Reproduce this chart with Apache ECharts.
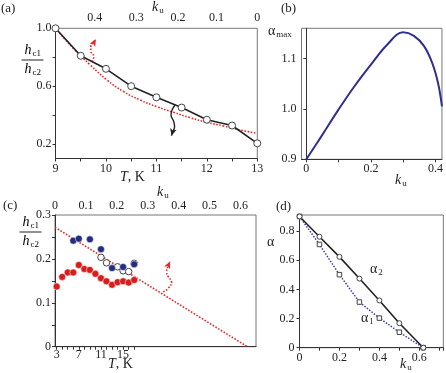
<!DOCTYPE html>
<html>
<head>
<meta charset="utf-8">
<script src="https://cdn.jsdelivr.net/npm/echarts@6/dist/echarts.min.js"></script>
<style>
html, body { margin: 0; padding: 0; background: #fff; }
#chart { width: 446px; height: 373px; }
</style>
</head>
<body>
<div id="chart"></div>
<script>
// panel (a): h_c1/h_c2 vs T
const tempA = [9, 9.5, 10, 10.5, 11, 11.5, 12, 12.5, 13];
const ratioA = [1.0, 0.81, 0.72, 0.60, 0.523, 0.452, 0.368, 0.328, 0.205];
const fitTempA = [9, 9.35, 9.69, 10.02, 10.35, 10.68, 11.01, 11.34, 11.67, 12.0, 12.33, 12.66, 13];
const fitRatioA = [1.0, 0.862, 0.746, 0.643, 0.562, 0.504, 0.458, 0.419, 0.382, 0.35, 0.325, 0.297, 0.274];
const kuTicksA = [0.4, 0.3, 0.2, 0.1, 0];
const kuTickTempA = [9.78, 10.6, 11.43, 12.19, 13];
const redArrowTA = [9.72, 9.76, 9.70, 9.70, 9.75, 9.80];
const redArrowYA = [0.77, 0.804, 0.843, 0.873, 0.903, 0.924];
const blackArrowTA = [11.37, 11.31, 11.29, 11.34, 11.36, 11.31, 11.30];
const blackArrowYA = [0.47, 0.435, 0.401, 0.359, 0.32, 0.274, 0.258];

// panel (b): alpha_max vs k_u
const kuB = [0, 0.046, 0.1, 0.149, 0.2, 0.251, 0.3, 0.333, 0.364, 0.39, 0.408, 0.42];
const alphaMaxB = [0.9, 0.945, 0.999, 1.045, 1.088, 1.128, 1.152, 1.145, 1.125, 1.091, 1.051, 1.005];

// panel (c): h_c1/h_c2 vs T and k_u
const tempRedC = [3, 4, 5, 6, 7, 8, 9, 10, 11, 12, 13, 14, 15, 16, 17];
const ratioRedC = [0.137, 0.159, 0.169, 0.169, 0.186, 0.177, 0.175, 0.166, 0.156, 0.149, 0.141, 0.147, 0.149, 0.146, 0.152];
const tempBlueC = [6, 7, 9, 11, 13, 15, 17];
const ratioBlueC = [0.2415, 0.246, 0.2446, 0.222, 0.179, 0.1816, 0.1877];
const tempOpenC = [11, 12, 14, 15, 16, 17];
const ratioOpenC = [0.2036, 0.191, 0.182, 0.173, 0.171, 0.19];
const kuLineC = [0, 0.622];
const ratioLineC = [0.272, 0];
const redArrowKuC = [0.35, 0.366, 0.377, 0.366, 0.361, 0.366, 0.372];
const redArrowYC = [0.125, 0.133, 0.148, 0.1595, 0.171, 0.184, 0.194];

// panel (d): alpha_1, alpha_2 vs k_u
const kuD = [0, 0.1, 0.2, 0.3, 0.4, 0.5, 0.62];
const alpha2D = [0.9, 0.761, 0.623, 0.474, 0.324, 0.168, 0];
const alpha1D = [0.9, 0.708, 0.501, 0.313, 0.203, 0.106, 0];

const zip = (xs, ys) => xs.map((x, i) => [x, ys[i]]);
const serif = '"Liberation Serif", "DejaVu Serif", serif';
const ink = '#333';
const redDot = '#e8262a';

function tickLabel(v) {
  return v === 0 ? '0' : v.toFixed(1);
}

function baseAxis(extra) {
  return Object.assign({
    type: 'value',
    splitLine: { show: false },
    axisLine: { show: true, lineStyle: { color: ink, width: 1 } },
    axisTick: { show: true, length: 3, lineStyle: { color: ink } },
    axisLabel: { color: '#222', fontFamily: serif, fontSize: 12, margin: 4, formatter: tickLabel }
  }, extra);
}

const rich = {
  i: { fontFamily: serif, fontSize: 14, fontStyle: 'italic', color: '#222', lineHeight: 16 },
  n: { fontFamily: serif, fontSize: 14, color: '#222', lineHeight: 16 },
  s: { fontFamily: serif, fontSize: 9, color: '#222', lineHeight: 16, verticalAlign: 'bottom', padding: [6, 0, 0, 1] }
};

function label(x, y, text, size) {
  return {
    type: 'text', left: x, top: y,
    style: { text: text, rich: rich, fontFamily: serif, fontSize: size || 13, fill: '#222' }
  };
}

function fraction(x, y) {
  return {
    type: 'group', left: x, top: y,
    children: [
      { type: 'text', x: 3, y: 0, style: { text: '{i|h}{s|c1}', rich: rich } },
      { type: 'line', shape: { x1: 0, y1: 18, x2: 22, y2: 18 }, style: { stroke: '#222', lineWidth: 1 } },
      { type: 'text', x: 3, y: 19, style: { text: '{i|h}{s|c2}', rich: rich } }
    ]
  };
}

const chart = echarts.init(document.getElementById('chart'), null, { renderer: 'canvas' });

const gridStyle = { show: true, borderColor: '#777', borderWidth: 1, backgroundColor: '#fff' };

const option = {
  animation: false,
  grid: [
    Object.assign({ left: 55.5, top: 28.3, width: 201.8, height: 130.2 }, gridStyle),
    Object.assign({ left: 301.5, top: 28.3, width: 141.8, height: 131 }, gridStyle),
    Object.assign({ left: 55, top: 215, width: 201, height: 131.7 }, gridStyle),
    Object.assign({ left: 299.5, top: 215, width: 143.8, height: 132.7 }, gridStyle)
  ],
  xAxis: [
    baseAxis({ gridIndex: 0, min: 9, max: 13, interval: 0.5,
      axisLabel: { color: '#222', fontFamily: serif, fontSize: 12, margin: 4, customValues: [9, 10, 11, 12, 13], formatter: v => String(v) } }),
    baseAxis({ gridIndex: 0, position: 'top', min: 9, max: 13,
      axisLine: { show: false }, axisTick: { show: false },
      axisLabel: { color: '#222', fontFamily: serif, fontSize: 12, margin: 4, customValues: kuTickTempA,
        formatter: function (v) {
          let best = 0;
          kuTickTempA.forEach((t, i) => { if (Math.abs(t - v) < Math.abs(kuTickTempA[best] - v)) best = i; });
          return tickLabel(kuTicksA[best]);
        } } }),
    baseAxis({ gridIndex: 1, min: -0.015, max: 0.42,
      axisTick: { show: true, length: 3, lineStyle: { color: ink }, customValues: [0, 0.1, 0.2, 0.3, 0.4] },
      axisLabel: { color: '#222', fontFamily: serif, fontSize: 12, margin: 4, customValues: [0, 0.2, 0.4], formatter: tickLabel } }),
    baseAxis({ gridIndex: 2, min: 2.7, max: 39,
      axisTick: { show: true, length: 3, lineStyle: { color: ink }, customValues: tempRedC },
      axisLabel: { color: '#222', fontFamily: serif, fontSize: 12, margin: 2, customValues: [3, 7, 11, 15], formatter: v => String(v) } }),
    baseAxis({ gridIndex: 2, position: 'top', min: 0, max: 0.65, interval: 0.1,
      axisLine: { show: false }, axisTick: { show: false },
      axisLabel: { color: '#222', fontFamily: serif, fontSize: 12, margin: 3, customValues: [0, 0.1, 0.2, 0.3, 0.4, 0.5, 0.6], formatter: tickLabel } }),
    baseAxis({ gridIndex: 3, min: 0, max: 0.72, interval: 0.1,
      axisLabel: { color: '#222', fontFamily: serif, fontSize: 12, margin: 4, customValues: [0, 0.2, 0.4, 0.6], formatter: tickLabel } })
  ],
  yAxis: [
    baseAxis({ gridIndex: 0, min: 0.1, max: 1.0,
      axisTick: { show: true, length: 3, lineStyle: { color: ink }, customValues: [0.2, 0.4, 0.6, 0.8, 1.0] },
      axisLabel: { color: '#222', fontFamily: serif, fontSize: 12, margin: 4, customValues: [0.2, 0.6, 1.0], formatter: tickLabel } }),
    baseAxis({ gridIndex: 1, min: 0.9, max: 1.16,
      axisTick: { show: true, length: 3, lineStyle: { color: ink }, customValues: [0.9, 1.0, 1.1] },
      axisLabel: { color: '#222', fontFamily: serif, fontSize: 12, margin: 5, customValues: [0.9, 1.0, 1.1], formatter: tickLabel } }),
    baseAxis({ gridIndex: 2, min: 0, max: 0.3, interval: 0.05,
      axisLabel: { color: '#222', fontFamily: serif, fontSize: 12, margin: 4, customValues: [0, 0.1, 0.2, 0.3], formatter: tickLabel } }),
    baseAxis({ gridIndex: 3, min: 0, max: 0.91,
      axisTick: { show: true, length: 3, lineStyle: { color: ink }, customValues: [0, 0.2, 0.4, 0.6, 0.8] },
      axisLabel: { color: '#222', fontFamily: serif, fontSize: 12, margin: 5, customValues: [0, 0.2, 0.4, 0.6, 0.8], formatter: tickLabel } })
  ],
  series: [
    // (a)
    { type: 'line', xAxisIndex: 0, yAxisIndex: 0, data: zip(fitTempA, fitRatioA), smooth: true, showSymbol: false,
      lineStyle: { color: redDot, width: 1.6, type: [1.6, 1.6] }, z: 2 },
    { type: 'line', xAxisIndex: 0, yAxisIndex: 0, data: zip(redArrowTA, redArrowYA), smooth: true, showSymbol: false,
      lineStyle: { color: redDot, width: 1.6, type: [1.6, 1.6] } },
    { type: 'scatter', xAxisIndex: 0, yAxisIndex: 0, data: [[redArrowTA[5], redArrowYA[5]]], symbol: 'arrow', symbolSize: [5, 7], symbolRotate: -30,
      itemStyle: { color: redDot, opacity: 1 } },
    { type: 'line', xAxisIndex: 0, yAxisIndex: 0, data: zip(tempA, ratioA), symbol: 'circle', symbolSize: 7,
      lineStyle: { color: '#222', width: 1.6 }, itemStyle: { color: '#fff', borderColor: '#444', borderWidth: 1 }, z: 4 },
    { type: 'line', xAxisIndex: 0, yAxisIndex: 0, data: zip(blackArrowTA, blackArrowYA), smooth: true, showSymbol: false,
      lineStyle: { color: '#222', width: 1.4 }, z: 3 },
    { type: 'scatter', xAxisIndex: 0, yAxisIndex: 0, data: [[blackArrowTA[6], blackArrowYA[6]]], symbol: 'arrow', symbolSize: [5, 7], symbolRotate: 165,
      itemStyle: { color: '#222', opacity: 1 } },
    // (b)
    { type: 'line', xAxisIndex: 2, yAxisIndex: 1, data: zip(kuB, alphaMaxB), smooth: 0.4, showSymbol: false,
      lineStyle: { color: '#2f2f8f', width: 2 } },
    // (c)
    { type: 'line', xAxisIndex: 4, yAxisIndex: 2, data: zip(kuLineC, ratioLineC), showSymbol: false,
      lineStyle: { color: redDot, width: 1.6, type: [1.6, 1.6] }, z: 2 },
    { type: 'line', xAxisIndex: 4, yAxisIndex: 2, data: zip(redArrowKuC, redArrowYC), smooth: true, showSymbol: false,
      lineStyle: { color: redDot, width: 1.6, type: [1.6, 1.6] } },
    { type: 'scatter', xAxisIndex: 4, yAxisIndex: 2, data: [[redArrowKuC[6], redArrowYC[6]]], symbol: 'arrow', symbolSize: [5, 7], symbolRotate: -25,
      itemStyle: { color: redDot, opacity: 1 } },
    { type: 'scatter', xAxisIndex: 3, yAxisIndex: 2, data: zip(tempOpenC, ratioOpenC), symbol: 'circle', symbolSize: 6.5,
      itemStyle: { color: '#fff', borderColor: '#444', borderWidth: 1, opacity: 1 }, z: 3 },
    { type: 'scatter', xAxisIndex: 3, yAxisIndex: 2, data: zip(tempBlueC, ratioBlueC), symbol: 'circle', symbolSize: 7,
      itemStyle: { color: '#262c7e', borderColor: '#fff', borderWidth: 0.5, opacity: 1 }, z: 4 },
    { type: 'scatter', xAxisIndex: 3, yAxisIndex: 2, data: zip(tempRedC, ratioRedC), symbol: 'circle', symbolSize: 7,
      itemStyle: { color: '#d81e1c', borderColor: '#fff', borderWidth: 0.5, opacity: 1 }, z: 4 },
    // (d)
    { type: 'line', xAxisIndex: 5, yAxisIndex: 3, data: zip(kuD, alpha1D), symbol: 'rect', symbolSize: 4.5,
      lineStyle: { color: '#3a3aa6', width: 1.5, type: [1.5, 1.5] }, itemStyle: { color: '#fff', borderColor: '#444', borderWidth: 1 } },
    { type: 'line', xAxisIndex: 5, yAxisIndex: 3, data: zip(kuD, alpha2D), symbol: 'circle', symbolSize: 5,
      lineStyle: { color: '#222', width: 1.6 }, itemStyle: { color: '#fff', borderColor: '#444', borderWidth: 1 } }
  ],
  graphic: [
    label(1, 2, '(a)'),
    label(152, 0, '{i|k}{s|u}'),
    fraction(19, 43),
    label(120, 170, '{i|T}{n|, K}'),
    label(281, 2, '(b)'),
    label(268, 24, '{n|α}{s|max}'),
    label(395, 173, '{i|k}{s|u}'),
    label(3, 199, '(c)'),
    label(157, 185, '{i|k}{s|u}'),
    fraction(17, 215),
    label(108, 357, '{i|T}{n|, K}'),
    label(276, 200, '(d)'),
    label(267, 235, '{n|α}'),
    label(370, 262, '{n|α}{s|2}'),
    label(361, 311, '{n|α}{s|1}'),
    label(400, 357, '{i|k}{s|u}')
  ]
};

chart.setOption(option);
</script>
</body>
</html>
